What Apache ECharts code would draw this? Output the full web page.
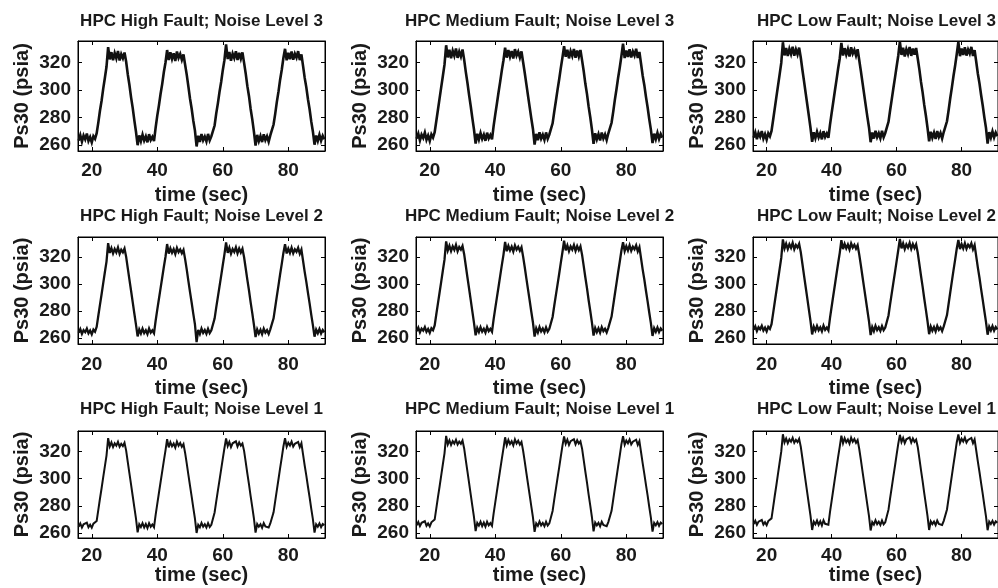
<!DOCTYPE html>
<html>
<head>
<meta charset="utf-8">
<script src="https://cdn.jsdelivr.net/npm/echarts@6/dist/echarts.min.js"></script>
<style>
  html, body { margin: 0; padding: 0; background: #fff; }
  #chart { width: 998px; height: 588px; }
</style>
</head>
<body>
<div id="chart"></div>
<script>
// Sample times (sec), shared by every panel
const timeSec = [
  16.0,16.5,17.0,17.5,18.0,18.5,19.0,19.5,20.0,20.5,
  21.0,21.5,22.0,22.5,23.0,23.5,24.0,24.5,25.0,25.5,
  26.0,26.5,27.0,27.5,28.0,28.5,29.0,29.5,30.0,30.5,
  31.0,31.5,32.0,32.5,33.0,33.5,34.0,34.5,35.0,35.5,
  36.0,36.5,37.0,37.5,38.0,38.5,39.0,39.5,40.0,40.5,
  41.0,41.5,42.0,42.5,43.0,43.5,44.0,44.5,45.0,45.5,
  46.0,46.5,47.0,47.5,48.0,48.5,49.0,49.5,50.0,50.5,
  51.0,51.5,52.0,52.5,53.0,53.5,54.0,54.5,55.0,55.5,
  56.0,56.5,57.0,57.5,58.0,58.5,59.0,59.5,60.0,60.5,
  61.0,61.5,62.0,62.5,63.0,63.5,64.0,64.5,65.0,65.5,
  66.0,66.5,67.0,67.5,68.0,68.5,69.0,69.5,70.0,70.5,
  71.0,71.5,72.0,72.5,73.0,73.5,74.0,74.5,75.0,75.5,
  76.0,76.5,77.0,77.5,78.0,78.5,79.0,79.5,80.0,80.5,
  81.0,81.5,82.0,82.5,83.0,83.5,84.0,84.5,85.0,85.5,
  86.0,86.5,87.0,87.5,88.0,88.5,89.0,89.5,90.0,90.5,
  91.0
];

// Ps30 (psia) — HPC high fault, noise level 3
const highFaultNoise3 = [
  263.2,267.1,262.4,266.8,264.0,268.3,262.9,265.7,261.8,266.4,264.5,
  268.5,276.2,284.8,292.1,300.9,308.6,316.8,
  331.0,322.1,327.4,321.6,326.8,322.9,328.2,321.3,325.9,323.0,327.1,
  320.4,311.2,303.5,294.6,286.9,277.8,269.6,
  259.8,266.9,262.7,267.5,263.1,266.2,261.9,267.8,263.6,265.9,262.8,
  272.6,281.3,288.7,297.0,304.2,312.8,319.7,
  328.9,321.7,327.3,322.5,326.6,321.0,327.9,323.2,326.1,321.8,325.7,
  318.2,310.9,302.4,293.6,286.3,277.6,270.4,
  258.9,266.7,262.2,267.9,263.4,266.1,262.6,268.0,263.3,266.2,
  266.9,274.1,282.9,290.2,298.5,305.7,314.3,321.6,
  333.0,322.4,327.6,321.2,326.4,323.1,328.0,321.7,326.9,322.6,327.2,
  319.6,311.8,302.7,295.4,286.1,278.6,269.7,
  259.5,267.3,262.8,266.5,262.1,267.7,263.5,266.3,262.4,267.0,
  266.2,274.8,282.6,291.3,298.7,307.4,314.6,323.1,
  329.8,321.5,326.9,322.3,327.8,321.9,326.2,323.4,328.1,321.6,325.8,
  317.4,308.7,301.8,293.2,285.9,277.1,269.8,
  260.2,266.8,262.9,267.4,263.0,266.6,264.1
];

// Ps30 (psia) — HPC medium fault, noise level 3
const mediumFaultNoise3 = [
  264.6,268.2,263.3,267.5,265.1,269.0,263.8,266.9,262.9,267.7,265.4,
  269.3,277.4,285.6,293.8,302.0,310.1,318.3,
  332.4,323.6,329.1,323.0,328.4,324.7,330.0,323.3,327.8,324.2,329.3,
  322.0,313.1,305.2,296.4,288.3,279.5,271.2,
  261.0,268.1,263.9,268.6,264.4,267.5,263.0,268.9,264.8,267.2,264.1,
  273.9,282.2,290.1,298.3,306.0,314.2,321.5,
  330.6,323.4,328.9,324.1,328.2,322.8,329.6,324.9,327.7,323.5,328.0,
  320.1,312.3,304.0,295.6,287.5,279.2,271.6,
  260.2,268.0,263.5,269.2,264.6,267.4,263.7,269.1,264.5,267.6,
  268.0,275.7,284.1,291.9,300.0,307.5,315.8,323.4,
  331.8,324.0,329.2,322.9,328.1,324.6,329.7,323.3,328.6,324.2,329.0,
  321.4,313.5,304.4,296.9,287.8,280.1,271.3,
  260.8,268.5,264.1,267.8,263.3,269.0,264.7,267.6,263.6,268.3,
  267.6,276.1,284.0,292.7,300.4,308.8,316.2,324.5,
  333.5,323.1,328.6,323.9,329.5,323.5,327.9,325.0,329.8,323.2,327.5,
  319.0,310.3,303.4,294.9,287.4,278.7,271.1,
  261.4,268.2,264.2,268.8,264.3,267.9,265.3
];

// Ps30 (psia) — HPC low fault, noise level 3
const lowFaultNoise3 = [
  265.3,269.1,264.2,268.7,266.0,270.1,264.6,267.8,263.9,268.5,266.3,
  270.2,278.3,286.6,294.9,303.1,311.3,319.6,
  334.6,325.0,330.4,324.6,329.8,326.1,331.3,324.8,329.4,325.7,330.7,
  323.5,314.6,306.4,297.8,289.4,280.9,272.3,
  262.3,269.2,264.9,269.6,265.5,268.6,264.1,270.0,265.8,268.3,265.2,
  274.8,283.1,291.2,299.4,307.3,315.5,323.0,
  334.1,324.9,330.3,325.6,329.6,324.3,331.0,326.3,329.1,324.9,329.5,
  321.5,313.6,305.3,296.9,288.6,280.4,272.7,
  262.0,269.0,264.6,270.3,265.7,268.5,264.8,270.2,265.6,268.7,
  268.9,276.8,285.2,293.1,301.2,308.9,317.0,324.8,
  335.0,325.4,330.6,324.3,329.5,326.0,331.1,324.7,330.0,325.6,330.4,
  322.8,314.9,305.8,298.2,289.1,281.4,272.6,
  262.6,269.6,265.2,268.9,264.4,270.1,265.8,268.7,264.7,269.4,
  268.5,277.2,285.2,293.9,301.6,310.1,317.5,325.9,
  334.8,324.5,330.0,325.3,330.9,324.9,329.3,326.4,331.2,324.6,328.9,
  320.4,311.7,304.7,296.3,288.6,280.0,272.4,
  261.0,269.3,265.3,269.9,265.4,269.0,266.4
];

// Ps30 (psia) — HPC high fault, noise level 2
const highFaultNoise2 = [
  264.0,266.6,263.1,265.9,264.4,267.0,263.5,265.6,262.8,266.2,264.7,
  268.3,276.5,284.6,292.4,300.6,308.7,316.6,
  330.2,323.0,326.5,322.6,325.9,323.4,327.0,322.4,325.4,323.5,326.3,
  320.1,311.6,303.2,295.0,286.6,278.2,269.9,
  261.2,266.3,263.4,266.9,263.7,265.8,262.9,267.1,264.0,265.7,263.6,
  272.8,281.0,288.9,296.8,304.6,312.6,320.0,
  329.6,322.5,326.4,323.1,325.8,322.2,326.7,323.6,325.6,322.8,325.3,
  318.4,310.6,302.2,294.0,286.1,277.9,270.1,
  257.0,266.1,263.0,267.0,263.8,265.9,263.2,266.8,263.7,265.7,
  266.8,274.4,282.7,290.5,298.3,306.0,314.1,321.9,
  330.8,323.1,326.8,322.5,325.9,323.7,327.1,322.7,326.3,323.3,326.0,
  319.8,311.5,303.0,295.2,286.4,278.4,270.0,
  260.8,266.4,263.3,266.1,262.9,266.9,264.0,265.8,263.1,266.5,
  266.4,274.6,282.8,291.0,299.0,307.2,314.9,323.0,
  329.4,322.6,326.2,323.0,326.9,322.8,325.7,323.9,326.8,322.4,325.4,
  317.2,309.0,301.6,293.4,285.7,277.4,269.6,
  261.0,266.2,263.5,266.7,263.4,266.0,264.3
];

// Ps30 (psia) — HPC medium fault, noise level 2
const mediumFaultNoise2 = [
  265.1,267.7,264.2,267.0,265.5,268.1,264.6,266.7,263.9,267.3,265.8,
  269.4,277.6,285.7,293.7,301.8,310.0,318.0,
  331.5,324.8,328.3,324.4,327.9,325.3,329.0,324.3,327.4,325.5,328.2,
  322.1,313.5,305.0,296.7,288.2,279.8,271.3,
  262.0,267.4,264.5,268.0,264.8,266.9,264.0,268.2,265.1,266.8,264.7,
  274.0,282.1,290.1,298.0,306.0,314.0,321.6,
  331.2,324.3,328.2,324.9,327.7,324.1,328.6,325.5,327.5,324.7,327.2,
  320.3,312.4,304.0,295.8,287.8,279.5,271.5,
  261.1,267.2,264.1,268.1,264.9,267.0,264.3,267.9,264.8,266.8,
  267.9,275.6,283.9,291.8,299.6,307.4,315.6,323.5,
  332.0,324.9,328.6,324.3,327.8,325.5,328.9,324.5,328.1,325.1,327.9,
  321.6,313.3,304.8,296.9,288.0,280.0,271.6,
  261.8,267.5,264.4,267.2,264.0,268.0,265.1,266.9,264.2,267.6,
  267.5,275.9,284.2,292.4,300.5,308.7,316.5,324.6,
  331.0,324.4,328.0,324.8,328.7,324.6,327.6,325.7,328.6,324.2,327.3,
  319.0,310.7,303.3,295.0,287.2,278.9,271.0,
  261.6,267.3,264.6,267.8,264.5,267.1,265.4
];

// Ps30 (psia) — HPC low fault, noise level 2
const lowFaultNoise2 = [
  266.1,268.7,265.2,268.0,266.5,269.1,265.6,267.7,264.9,268.3,266.8,
  270.3,278.5,286.7,294.8,303.0,311.2,319.3,
  333.0,326.3,329.8,325.9,329.4,326.8,330.5,325.8,328.9,327.0,329.7,
  323.6,315.0,306.4,298.0,289.5,281.0,272.5,
  262.7,268.4,265.5,269.0,265.8,267.9,265.0,269.2,266.1,267.8,265.7,
  275.0,283.2,291.3,299.3,307.4,315.4,323.1,
  332.5,325.8,329.7,326.4,329.2,325.6,330.1,327.0,329.0,326.2,328.7,
  321.8,313.8,305.4,297.1,288.9,280.6,272.4,
  262.2,268.2,265.1,269.1,265.9,268.0,265.3,268.9,265.8,267.8,
  268.8,276.7,285.1,293.1,301.0,308.8,317.0,325.0,
  333.4,326.4,330.1,325.8,329.3,327.0,330.4,326.0,329.6,326.6,329.4,
  323.1,314.7,306.1,298.1,289.3,281.1,272.6,
  262.9,268.5,265.4,268.2,265.0,269.0,266.1,267.9,265.2,268.6,
  268.4,277.0,285.4,293.7,301.9,310.1,317.9,326.1,
  332.6,325.9,329.5,326.3,330.2,326.1,329.1,327.2,330.1,325.7,328.8,
  320.5,312.1,304.6,296.2,288.3,280.0,272.0,
  262.5,268.3,265.6,268.8,265.5,268.1,266.4
];

// Ps30 (psia) — HPC high fault, noise level 1
const highFaultNoise1 = [
  264.8,267.2,264.2,266.6,265.4,267.8,264.4,266.2,264.0,267.0,265.6,
  269.0,277.2,285.3,293.0,301.1,309.1,317.0,
  329.8,323.6,326.6,323.2,326.0,324.2,327.0,323.4,325.6,324.0,326.4,
  320.6,312.2,303.9,295.6,287.3,279.0,270.8,
  260.6,266.6,264.6,267.4,264.2,266.8,263.8,267.4,264.8,266.4,264.4,
  273.5,281.6,289.5,297.4,305.2,313.1,320.6,
  329.0,323.0,326.8,323.8,325.8,322.8,327.2,324.2,326.2,323.4,325.4,
  318.9,311.0,302.8,294.7,286.8,278.6,270.7,
  260.2,266.2,264.4,267.6,264.8,266.6,264.2,267.4,264.6,266.2,
  267.4,275.2,283.4,291.2,299.0,306.8,314.7,322.5,
  329.6,324.0,327.0,323.2,326.0,324.6,327.4,323.6,326.6,324.2,325.8,
  320.4,312.1,303.7,295.8,287.2,279.1,270.9,
  260.4,266.8,264.8,266.6,264.0,267.4,265.0,266.4,264.2,267.2,
  267.1,275.3,283.5,291.6,299.6,307.7,315.5,323.6,
  329.8,323.4,326.4,324.4,327.2,323.6,325.6,324.8,327.0,323.2,326.0,
  317.8,309.7,302.2,294.1,286.4,278.1,270.4,
  260.4,266.6,264.8,267.2,264.4,266.8,265.8
];

// Ps30 (psia) — HPC medium fault, noise level 1
const mediumFaultNoise1 = [
  265.8,268.2,265.2,267.6,266.4,268.8,265.4,267.2,265.0,268.0,266.6,
  270.0,278.3,286.5,294.3,302.5,310.6,318.6,
  331.4,325.2,328.2,324.8,327.6,325.8,328.6,325.0,327.2,325.6,328.0,
  322.2,313.7,305.3,296.9,288.5,280.1,271.8,
  261.6,267.6,265.6,268.4,265.2,267.8,264.8,268.4,265.8,267.4,265.4,
  274.6,282.7,290.7,298.7,306.6,314.6,322.2,
  330.4,324.6,328.4,325.4,327.4,324.4,328.8,325.8,327.8,325.0,327.0,
  320.5,312.5,304.2,296.0,287.9,279.7,271.7,
  261.0,267.2,265.4,268.6,265.8,267.6,265.2,268.4,265.6,267.2,
  268.4,276.3,284.6,292.5,300.4,308.2,316.2,324.1,
  331.0,325.6,328.6,324.8,327.6,326.2,329.0,325.2,328.2,325.8,327.4,
  322.0,313.6,305.1,297.1,288.4,280.2,271.9,
  261.4,267.8,265.8,267.6,265.0,268.4,266.0,267.4,265.2,268.2,
  268.1,276.4,284.7,292.9,300.9,309.1,316.9,325.2,
  331.2,325.0,328.0,326.0,328.8,325.2,327.2,326.4,328.6,324.8,327.6,
  319.4,311.2,303.6,295.5,287.7,279.3,271.4,
  261.2,267.6,265.8,268.2,265.4,267.8,266.8
];

// Ps30 (psia) — HPC low fault, noise level 1
const lowFaultNoise1 = [
  266.7,269.1,266.1,268.5,267.3,269.7,266.3,268.1,265.9,268.9,267.5,
  270.9,279.2,287.5,295.4,303.7,311.9,320.0,
  332.6,326.5,329.5,326.1,328.9,327.1,329.9,326.3,328.5,326.9,329.3,
  323.5,315.0,306.5,298.0,289.6,281.1,272.7,
  262.4,268.5,266.5,269.3,266.1,268.7,265.7,269.5,266.9,268.3,266.3,
  275.6,283.8,291.9,300.0,307.9,316.0,323.6,
  331.6,325.9,329.7,326.7,328.7,325.7,330.1,327.1,329.1,326.3,328.3,
  321.8,313.8,305.4,297.1,288.9,280.6,272.6,
  262.0,268.1,266.3,269.5,266.7,268.5,266.1,269.3,266.5,268.1,
  269.3,277.3,285.7,293.7,301.7,309.5,317.6,325.5,
  332.2,326.9,329.9,326.1,328.9,327.5,330.3,326.5,329.5,327.1,328.7,
  323.3,314.9,306.3,298.3,289.5,281.2,272.8,
  262.4,268.7,266.7,268.5,265.9,269.3,266.9,268.3,266.1,269.1,
  269.0,277.4,285.8,294.1,302.2,310.5,318.3,326.6,
  332.4,326.3,329.3,327.3,330.1,326.5,328.5,327.7,329.9,326.1,328.9,
  320.7,312.5,304.9,296.7,288.8,280.4,272.3,
  262.2,268.5,266.7,269.1,266.3,268.7,267.7
];

const panelTitles = [
  ['HPC High Fault; Noise Level 3', 'HPC Medium Fault; Noise Level 3', 'HPC Low Fault; Noise Level 3'],
  ['HPC High Fault; Noise Level 2', 'HPC Medium Fault; Noise Level 2', 'HPC Low Fault; Noise Level 2'],
  ['HPC High Fault; Noise Level 1', 'HPC Medium Fault; Noise Level 1', 'HPC Low Fault; Noise Level 1']
];
const panelSeries = [
  [highFaultNoise3, mediumFaultNoise3, lowFaultNoise3],
  [highFaultNoise2, mediumFaultNoise2, lowFaultNoise2],
  [highFaultNoise1, mediumFaultNoise1, lowFaultNoise1]
];
const xTickValues = [20, 40, 60, 80];
const yTickValues = [260, 280, 300, 320];
const xAxisName = 'time (sec)';
const yAxisName = 'Ps30 (psia)';

// Layout of the 3 x 3 panel grid
const colLeft = [78, 416, 753];
const plotWidth = 247;
const rowTop = [41, 237, 431];
const rowHeight = [110, 107, 107];
const xLimits = [15.8, 91.2];
const yLimits = [[255.6, 335.5], [255.6, 334.8], [256.5, 335.0]];
const titleCenterY = [21, 216, 409];
const xLabelMargin = [10, 11, 8];
const xNameGap = [34, 34, 26];
const traceWidth = [2.6, 2.3, 2.0];

const FONT = '"Liberation Sans", Arial, Helvetica, sans-serif';
const INK = '#1a1a1a';

const grids = [], xAxes = [], yAxes = [], series = [], graphics = [];

for (let r = 0; r < 3; r++) {
  for (let c = 0; c < 3; c++) {
    const k = grids.length;
    grids.push({
      left: colLeft[c], top: rowTop[r], width: plotWidth, height: rowHeight[r],
      show: true, borderColor: '#000', borderWidth: 1, backgroundColor: '#fff'
    });
    const tickStyle = { show: true, inside: true, length: 4, lineStyle: { color: '#000', width: 1 } };
    // bottom axis with labels
    xAxes.push({
      gridIndex: k, type: 'value', position: 'bottom', min: xLimits[0], max: xLimits[1],
      axisLine: { show: true, onZero: false, lineStyle: { color: '#000', width: 1 } },
      axisTick: Object.assign({ customValues: xTickValues }, tickStyle),
      axisLabel: { customValues: xTickValues, margin: xLabelMargin[r], fontSize: 19, fontWeight: 'bold', fontFamily: FONT, color: INK },
      splitLine: { show: false },
      name: xAxisName, nameLocation: 'middle', nameGap: xNameGap[r],
      nameTextStyle: { fontSize: 20, fontWeight: 'bold', fontFamily: FONT, color: INK }
    });
    // top axis: tick marks only
    xAxes.push({
      gridIndex: k, type: 'value', position: 'top', min: xLimits[0], max: xLimits[1],
      axisLine: { show: true, onZero: false, lineStyle: { color: '#000', width: 1 } },
      axisTick: Object.assign({ customValues: xTickValues }, tickStyle),
      axisLabel: { show: false }, splitLine: { show: false }
    });
    // left axis with labels
    yAxes.push({
      gridIndex: k, type: 'value', position: 'left', min: yLimits[r][0], max: yLimits[r][1],
      axisLine: { show: true, onZero: false, lineStyle: { color: '#000', width: 1 } },
      axisTick: Object.assign({ customValues: yTickValues }, tickStyle),
      axisLabel: { customValues: yTickValues, margin: 7, fontSize: 19, fontWeight: 'bold', fontFamily: FONT, color: INK },
      splitLine: { show: false },
      name: yAxisName, nameLocation: 'middle', nameGap: 46,
      nameTextStyle: { fontSize: 20, fontWeight: 'bold', fontFamily: FONT, color: INK }
    });
    // right axis: tick marks only
    yAxes.push({
      gridIndex: k, type: 'value', position: 'right', min: yLimits[r][0], max: yLimits[r][1],
      axisLine: { show: true, onZero: false, lineStyle: { color: '#000', width: 1 } },
      axisTick: Object.assign({ customValues: yTickValues }, tickStyle),
      axisLabel: { show: false }, splitLine: { show: false }
    });
    const values = panelSeries[r][c];
    series.push({
      type: 'line', xAxisIndex: 2 * k, yAxisIndex: 2 * k,
      data: timeSec.map((t, i) => [t, values[i]]),
      showSymbol: false, symbol: 'none', clip: true,
      lineStyle: { color: '#111', width: traceWidth[r], join: 'miter', miterLimit: 4 },
      z: 3
    });
    graphics.push({
      type: 'text', x: colLeft[c] + plotWidth / 2, y: titleCenterY[r],
      style: {
        text: panelTitles[r][c], fill: INK,
        font: 'bold 17px ' + FONT, textAlign: 'center', textVerticalAlign: 'middle'
      }
    });
  }
}

const chart = echarts.init(document.getElementById('chart'), null, { renderer: 'canvas' });
chart.setOption({
  animation: false,
  backgroundColor: '#fff',
  grid: grids,
  xAxis: xAxes,
  yAxis: yAxes,
  series: series,
  graphic: graphics
});
</script>
</body>
</html>
